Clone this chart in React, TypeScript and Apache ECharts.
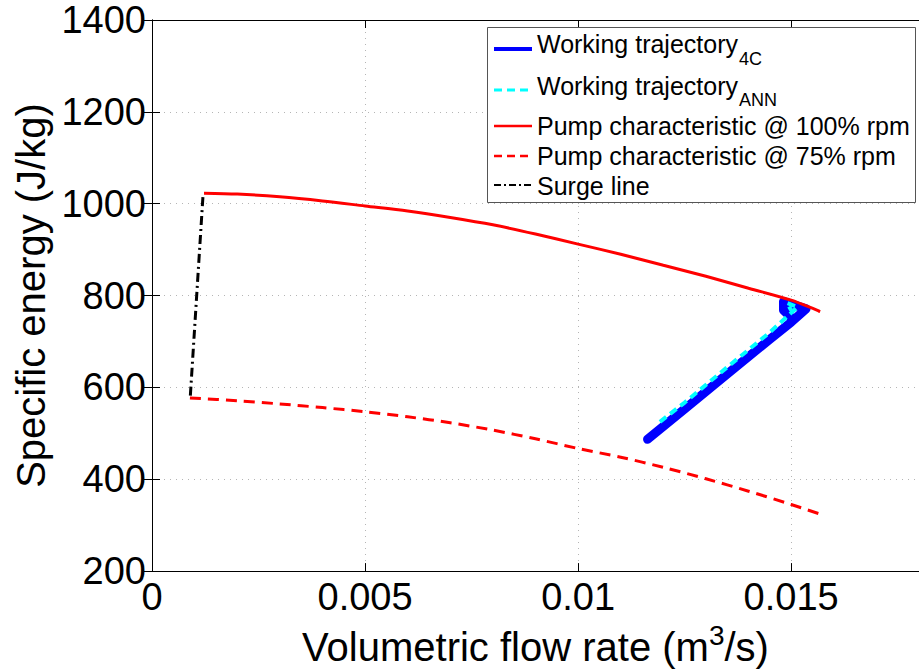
import React, { useEffect, useRef } from 'react';
import * as echarts from 'echarts';

// ---- data ----
const traj4cQ = [0.01163, 0.0125, 0.0135, 0.0145, 0.0150, 0.01535, 0.01482, 0.01482, 0.0150];
const traj4cH = [487, 553, 629, 705, 742, 771, 787, 768, 752];

const trajAnnQ = [0.01192, 0.0125, 0.0135, 0.0145, 0.01515, 0.0149, 0.0150];
const trajAnnH = [525, 567, 644, 720, 775, 784, 768];

const pump100Q = [0.00122, 0.002, 0.003, 0.004, 0.005, 0.006, 0.007, 0.008, 0.009, 0.010, 0.011, 0.012, 0.013, 0.014, 0.015, 0.01568];
const pump100H = [1023, 1021, 1015, 1006, 995, 984, 970, 954, 934, 912, 890, 866, 842, 816, 790, 765];

const pump75Q = [0.00089, 0.002, 0.003, 0.004, 0.005, 0.006, 0.007, 0.008, 0.009, 0.010, 0.011, 0.012, 0.013, 0.014, 0.015, 0.01578];
const pump75H = [577, 571, 564, 556, 547, 536, 523, 507, 488, 467, 448, 426, 401, 374, 345, 321];

const surgeQ = [0.0009, 0.0012];
const surgeH = [582, 1022];

const legendNames = [
  'Working trajectory',
  'Working trajectory',
  'Pump characteristic @ 100% rpm',
  'Pump characteristic @ 75% rpm',
  'Surge line',
];
const legendSubs = ['4C', 'ANN', '', '', ''];

const xMin = 0;
const xMax = 0.018;
const xInterval = 0.005;
const yMin = 200;
const yMax = 1400;
const yInterval = 200;

const FONT = 'Liberation Sans, Arial, sans-serif';

const zip = (a: number[], b: number[]) => a.map((v, i) => [v, b[i]]);

export default function App() {
  const ref = useRef<HTMLDivElement>(null);

  useEffect(() => {
    const chart = echarts.init(ref.current!, null, { renderer: 'svg' });

    const ctx = document.createElement('canvas').getContext('2d')!;
    ctx.font = `25px ${FONT}`;

    const legendStyles = [
      { stroke: '#0000ff', lineWidth: 4, lineDash: null as any },
      { stroke: '#00ffff', lineWidth: 3, lineDash: [8, 5] },
      { stroke: '#ff0000', lineWidth: 2.5, lineDash: null as any },
      { stroke: '#ff0000', lineWidth: 2.5, lineDash: [8, 5] },
      { stroke: '#000000', lineWidth: 2, lineDash: [7, 3, 2, 3] },
    ];
    const rowLineY = [49, 90, 126, 156, 185];
    const rowTextY = [44, 86, 126, 156, 186];
    const subY = [59, 100, 0, 0, 0];

    const graphics: any[] = [
      {
        type: 'rect',
        z: 100,
        shape: { x: 487.5, y: 27.5, width: 428, height: 175 },
        style: { fill: '#ffffff', stroke: '#555555', lineWidth: 1 },
      },
    ];
    legendNames.forEach((name, i) => {
      graphics.push({
        type: 'line',
        z: 101,
        shape: { x1: 494, y1: rowLineY[i], x2: 532, y2: rowLineY[i] },
        style: { ...legendStyles[i], fill: null },
      });
      graphics.push({
        type: 'text',
        z: 101,
        x: 537,
        y: rowTextY[i],
        style: {
          text: name,
          fill: '#000',
          fontSize: 25,
          fontFamily: FONT,
          verticalAlign: 'middle',
          align: 'left',
        },
      });
      if (legendSubs[i]) {
        const w = ctx.measureText(name).width;
        graphics.push({
          type: 'text',
          z: 101,
          x: 537 + w + 1,
          y: subY[i],
          style: {
            text: legendSubs[i],
            fill: '#000',
            fontSize: 18,
            fontFamily: FONT,
            verticalAlign: 'middle',
            align: 'left',
          },
        });
      }
    });

    const gridLine = { show: true, lineStyle: { color: '#b5b5b5', width: 1, type: [1, 5] as any } };
    const tick = { show: true, inside: true, length: 8, lineStyle: { color: '#000', width: 1 } };
    const axisLine = { show: true, lineStyle: { color: '#000', width: 1 } };

    const option: any = {
      animation: false,
      backgroundColor: '#ffffff',
      textStyle: { fontFamily: FONT },
      grid: { left: 152, right: -1, top: 20, bottom: 99, containLabel: false },
      xAxis: [
        {
          type: 'value',
          min: xMin,
          max: xMax,
          interval: xInterval,
          position: 'bottom',
          axisLine,
          axisTick: tick,
          splitLine: gridLine,
          axisLabel: {
            show: true,
            margin: 7,
            color: '#000',
            fontSize: 38,
            fontFamily: FONT,
            showMaxLabel: false,
            formatter: (v: number) => (v === 0 ? '0' : String(parseFloat(v.toFixed(4)))),
          },
          name: '{n|Volumetric flow rate (m}{sup|3}{n|/s)}',
          nameLocation: 'middle',
          nameGap: 17,
          nameTextStyle: {
            color: '#000',
            fontSize: 40,
            fontFamily: FONT,
            rich: {
              n: { fontSize: 40, fontFamily: FONT, color: '#000', lineHeight: 46, verticalAlign: 'bottom' },
              sup: { fontSize: 28, fontFamily: FONT, color: '#000', lineHeight: 28, padding: [0, 0, 18, 0], verticalAlign: 'bottom' },
            },
          },
        },
        {
          type: 'value',
          min: xMin,
          max: xMax,
          interval: xInterval,
          position: 'top',
          axisLine,
          axisTick: tick,
          splitLine: { show: false },
          axisLabel: { show: false },
        },
      ],
      yAxis: [
        {
          type: 'value',
          min: yMin,
          max: yMax,
          interval: yInterval,
          position: 'left',
          axisLine,
          axisTick: tick,
          splitLine: gridLine,
          axisLabel: {
            show: true,
            margin: 6,
            color: '#000',
            fontSize: 38,
            fontFamily: FONT,
            showMinLabel: true,
            showMaxLabel: true,
            formatter: (v: number) => String(v),
          },
          name: 'Specific energy (J/kg)',
          nameLocation: 'middle',
          nameRotate: 90,
          nameGap: 98,
          nameTextStyle: { color: '#000', fontSize: 40, fontFamily: FONT },
        },
        {
          type: 'value',
          min: yMin,
          max: yMax,
          interval: yInterval,
          position: 'right',
          axisLine,
          axisTick: tick,
          splitLine: { show: false },
          axisLabel: { show: false },
        },
      ],
      series: [
        {
          name: 'Working trajectory 4C',
          type: 'line',
          data: zip(traj4cQ, traj4cH),
          showSymbol: false,
          symbol: 'none',
          lineStyle: { color: '#0000ff', width: 9, cap: 'round', join: 'round' },
        },
        {
          name: 'Working trajectory ANN',
          type: 'line',
          data: zip(trajAnnQ, trajAnnH),
          showSymbol: false,
          symbol: 'none',
          lineStyle: { color: '#00ffff', width: 4, type: [8, 5] },
        },
        {
          name: 'Pump characteristic @ 100% rpm',
          type: 'line',
          data: zip(pump100Q, pump100H),
          showSymbol: false,
          symbol: 'none',
          smooth: 0.3,
          lineStyle: { color: '#ff0000', width: 3 },
        },
        {
          name: 'Pump characteristic @ 75% rpm',
          type: 'line',
          data: zip(pump75Q, pump75H),
          showSymbol: false,
          symbol: 'none',
          smooth: 0.3,
          lineStyle: { color: '#ff0000', width: 3, type: [11, 7] },
        },
        {
          name: 'Surge line',
          type: 'line',
          data: zip(surgeQ, surgeH),
          showSymbol: false,
          symbol: 'none',
          lineStyle: { color: '#000000', width: 3, type: [9, 4, 2, 4] },
        },
      ],
      graphic: graphics,
    };

    chart.setOption(option);
    return () => chart.dispose();
  }, []);

  return <div ref={ref} style={{ position: 'absolute', left: 0, top: 0, width: 919, height: 672 }} />;
}
